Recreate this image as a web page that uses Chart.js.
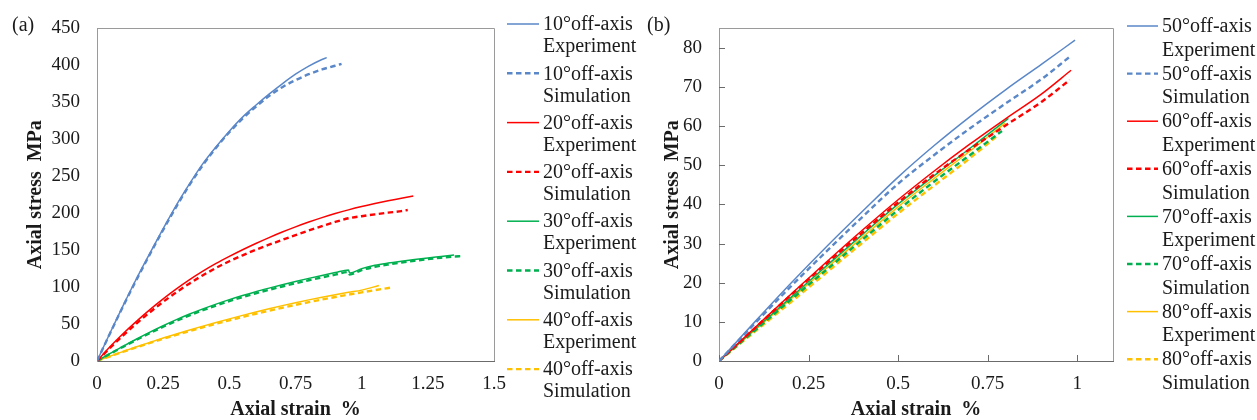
<!DOCTYPE html>
<html>
<head>
<meta charset="utf-8">
<script src="https://cdn.jsdelivr.net/npm/chart.js@4.4.1/dist/chart.umd.min.js"></script>
<style>
  html, body { margin: 0; padding: 0; background: #ffffff; }
  #wrap { position: relative; width: 1257px; height: 420px; overflow: hidden; }
  .panel { position: absolute; top: 0; height: 420px; }
  #pa { left: 0; width: 640px; }
  #pb { left: 640px; width: 617px; }
  canvas { display: block; }
</style>
</head>
<body>
<div id="wrap">
  <div class="panel" id="pa"><canvas id="ca" width="640" height="420"></canvas></div>
  <div class="panel" id="pb"><canvas id="cb" width="617" height="420"></canvas></div>
</div>
<script>
// ---------- Panel (a): 10°–40° off-axis, axial strain (%) vs axial stress (MPa) ----------
const strainA10Exp = [0, 0.05, 0.1, 0.15, 0.2, 0.25, 0.3, 0.35, 0.4, 0.45, 0.5, 0.55, 0.6, 0.65, 0.7, 0.75, 0.8, 0.85, 0.868];
const stressA10Exp = [0, 38.5, 76, 112, 146, 179, 211, 240, 267, 290, 311, 330, 346, 361, 375, 388, 399, 408, 410.5];
const strainA10Sim = [0, 0.05, 0.1, 0.15, 0.2, 0.25, 0.3, 0.35, 0.4, 0.45, 0.5, 0.55, 0.6, 0.65, 0.7, 0.75, 0.8, 0.85, 0.9, 0.924];
const stressA10Sim = [0, 38, 75, 110.5, 144.5, 177.5, 209, 238.5, 265, 288.5, 309.5, 328, 344, 358.5, 370.5, 380, 388, 394.5, 399.5, 402];

const strainA20Exp = [0, 0.05, 0.1, 0.15, 0.2, 0.25, 0.3, 0.35, 0.4, 0.45, 0.5, 0.55, 0.6, 0.65, 0.7, 0.75, 0.8, 0.85, 0.9, 0.95, 1.0, 1.05, 1.1, 1.15, 1.195];
const stressA20Exp = [0, 19.5, 37.5, 54, 69.5, 84, 97.5, 110, 121.5, 132, 141.5, 150.5, 159, 167, 174.5, 181.5, 188, 194, 199.5, 204.5, 209, 213, 216.7, 220.1, 223.2];
const strainA20Sim = [0, 0.05, 0.1, 0.15, 0.2, 0.25, 0.3, 0.35, 0.4, 0.45, 0.5, 0.55, 0.6, 0.65, 0.7, 0.75, 0.8, 0.85, 0.9, 0.95, 1.0, 1.05, 1.1, 1.15, 1.174];
const stressA20Sim = [0, 18, 35, 51, 66, 80, 93, 105, 116, 126, 135, 143, 150.5, 157.3, 163.9, 170.3, 176.5, 182.5, 188.1, 193.1, 195.9, 198.4, 200.7, 202.8, 204.3];

const strainA30Exp = [0, 0.05, 0.1, 0.15, 0.2, 0.25, 0.3, 0.35, 0.4, 0.45, 0.5, 0.55, 0.6, 0.65, 0.7, 0.75, 0.8, 0.85, 0.9, 0.95, 0.955, 1.0, 1.05, 1.1, 1.15, 1.2, 1.25, 1.3, 1.349];
const stressA30Exp = [0, 10.2, 20.2, 29.8, 39, 47.7, 55.9, 63.5, 70.5, 77, 83, 88.6, 93.8, 98.6, 103.2, 107.6, 111.8, 115.8, 119.6, 123.2, 119, 125, 129.5, 132.5, 135, 137.3, 139.5, 141.5, 143.5];
const strainA30Sim = [0, 0.05, 0.1, 0.15, 0.2, 0.25, 0.3, 0.35, 0.4, 0.45, 0.5, 0.55, 0.6, 0.65, 0.7, 0.75, 0.8, 0.85, 0.9, 0.95, 0.955, 1.0, 1.05, 1.1, 1.15, 1.2, 1.25, 1.3, 1.35, 1.378];
const stressA30Sim = [0, 9.8, 19.5, 28.8, 37.8, 46.3, 54.3, 61.8, 68.7, 75.1, 81, 86.5, 91.6, 96.3, 100.8, 105.1, 109.2, 113.1, 116.8, 120.4, 117, 123, 127.3, 130.5, 133.2, 135.6, 137.8, 139.7, 141.3, 142];

const strainA40Exp = [0, 0.05, 0.1, 0.15, 0.2, 0.25, 0.3, 0.35, 0.4, 0.45, 0.5, 0.55, 0.6, 0.65, 0.7, 0.75, 0.8, 0.85, 0.9, 0.95, 1.0, 1.065];
const stressA40Exp = [0, 6.6, 13, 19.2, 25.2, 31, 36.6, 42, 47.2, 52.2, 57, 61.7, 66.3, 70.7, 74.9, 78.9, 82.7, 86.3, 89.7, 92.9, 95.9, 102.1];
const strainA40Sim = [0, 0.05, 0.1, 0.15, 0.2, 0.25, 0.3, 0.35, 0.4, 0.45, 0.5, 0.55, 0.6, 0.65, 0.7, 0.75, 0.8, 0.85, 0.9, 0.95, 1.0, 1.05, 1.11];
const stressA40Sim = [0, 6.4, 12.6, 18.6, 24.4, 30, 35.4, 40.6, 45.6, 50.4, 55.05, 59.55, 63.95, 68.05, 72.05, 75.9, 79.6, 83.15, 86.55, 89.8, 92.9, 95.85, 99.3];

// ---------- Panel (b): 50°–80° off-axis ----------
const strainB50Exp = [0, 0.1, 0.2, 0.3, 0.4, 0.5, 0.6, 0.7, 0.8, 0.9, 0.994];
const stressB50Exp = [0, 10, 19.8, 29.2, 38.2, 47, 55, 62.4, 69.3, 75.8, 82];
const strainB50Sim = [0, 0.1, 0.2, 0.3, 0.4, 0.5, 0.6, 0.7, 0.8, 0.9, 0.98];
const stressB50Sim = [0, 9.6, 19, 28, 36.8, 45.3, 52.6, 59.4, 65.8, 72, 77.8];

const strainB60Exp = [0, 0.1, 0.2, 0.3, 0.4, 0.5, 0.6, 0.7, 0.8, 0.9, 0.983];
const stressB60Exp = [0, 8.5, 17, 25.3, 33.4, 41.2, 48.5, 55.4, 61.9, 68.2, 74.3];
const strainB60Sim = [0, 0.1, 0.2, 0.3, 0.4, 0.5, 0.6, 0.7, 0.8, 0.9, 0.979];
const stressB60Sim = [0, 8.4, 16.8, 24.9, 32.8, 40.5, 47.6, 54.1, 60.2, 66.2, 71.8];

const strainB70Exp = [0, 0.1, 0.2, 0.3, 0.4, 0.5, 0.6, 0.7, 0.808];
const stressB70Exp = [0, 8.1, 16.2, 24.3, 32.3, 40.1, 47.3, 54.3, 62];
const strainB70Sim = [0, 0.1, 0.2, 0.3, 0.4, 0.5, 0.6, 0.7, 0.79];
const stressB70Sim = [0, 7.8, 15.6, 23.3, 31, 38.6, 45.8, 52.6, 58.8];

const strainB80Exp = [0, 0.1, 0.2, 0.3, 0.4, 0.5, 0.6, 0.7, 0.799];
const stressB80Exp = [0, 7.9, 15.8, 23.7, 31.6, 39.4, 46.6, 53.6, 60.8];
const strainB80Sim = [0, 0.1, 0.2, 0.3, 0.4, 0.5, 0.6, 0.7, 0.78];
const stressB80Sim = [0, 7.5, 15, 22.6, 30.2, 37.7, 44.8, 51.8, 57.8];

// Tick positions
const ticksA_x = [0, 0.25, 0.5, 0.75, 1, 1.25, 1.5];
const ticksA_y = [0, 50, 100, 150, 200, 250, 300, 350, 400, 450];
const ticksB_x = [0, 0.25, 0.5, 0.75, 1];
const ticksB_y = [0, 10, 20, 30, 40, 50, 60, 70, 80];

const anglesA = ['10', '20', '30', '40'];
const anglesB = ['50', '60', '70', '80'];
const seriesColors = ['#5A87C8', '#FF0000', '#00B050', '#FFC000'];

const SERIF = "'Liberation Serif', 'Times New Roman', serif";

function pairs(xs, ys) { return xs.map((x, i) => ({ x: x, y: ys[i] })); }

function makeSet(angle, kind, color, xs, ys) {
  const dashed = kind === 'Simulation';
  return {
    label: angle + '°off-axis\n' + kind,
    data: pairs(xs, ys),
    showLine: true,
    borderColor: color,
    backgroundColor: color,
    borderWidth: dashed ? 2.4 : 1.5,
    borderDash: dashed ? [5.5, 3.5] : [],
    pointRadius: 0,
    pointHoverRadius: 0,
    fill: false,
    cubicInterpolationMode: 'monotone'
  };
}

// Frame, inward tick marks, side legend and panel letter
const panelDecor = {
  id: 'panelDecor',
  beforeDatasetsDraw(chart, args, o) {
    const { ctx, chartArea: a } = chart;
    ctx.save();
    ctx.strokeStyle = o.frameColor;
    ctx.lineWidth = 1;
    const top = Math.round(a.top) + 0.5;
    const right = Math.round(a.right) + 0.5;
    ctx.beginPath();
    ctx.moveTo(Math.round(a.left), top);
    ctx.lineTo(right, top);
    ctx.lineTo(right, Math.round(a.bottom));
    ctx.stroke();
    if (o.inwardTicks) {
      const xs = chart.scales.x, ys = chart.scales.y;
      ctx.strokeStyle = o.tickColor;
      ctx.beginPath();
      xs.ticks.forEach(t => {
        const px = Math.round(xs.getPixelForValue(t.value)) + 0.5;
        ctx.moveTo(px, a.bottom);
        ctx.lineTo(px, a.bottom - 6);
      });
      ys.ticks.forEach(t => {
        const py = Math.round(ys.getPixelForValue(t.value)) + 0.5;
        ctx.moveTo(a.left, py);
        ctx.lineTo(a.left + 6, py);
      });
      ctx.stroke();
    }
    ctx.restore();
  },
  afterDraw(chart, args, o) {
    const { ctx } = chart;
    ctx.save();
    ctx.font = '20px ' + SERIF;
    ctx.fillStyle = '#1a1a1a';
    ctx.textBaseline = 'middle';
    ctx.textAlign = 'left';
    ctx.fillText(o.letter, o.letterX, o.letterY);
    chart.data.datasets.forEach((ds, i) => {
      const y = o.legendY0 + i * o.legendStep;
      ctx.strokeStyle = ds.borderColor;
      ctx.lineWidth = ds.borderWidth;
      ctx.setLineDash(ds.borderDash || []);
      ctx.beginPath();
      ctx.moveTo(o.legendX0, y);
      ctx.lineTo(o.legendX1, y);
      ctx.stroke();
      ctx.setLineDash([]);
      ds.label.split('\n').forEach((line, k) => {
        ctx.fillText(line, o.legendTextX, y + 1 + k * o.legendLineGap);
      });
    });
    ctx.restore();
  }
};

function fmt(v) { return String(Math.round(v * 100) / 100); }

function buildChart(canvasId, datasets, cfg) {
  return new Chart(document.getElementById(canvasId), {
    type: 'scatter',
    data: { datasets: datasets },
    plugins: [panelDecor],
    options: {
      responsive: false,
      animation: false,
      devicePixelRatio: 1,
      events: [],
      layout: { padding: { left: 0, top: 23, right: cfg.rightPad, bottom: 0 } },
      plugins: {
        legend: { display: false },
        tooltip: { enabled: false },
        panelDecor: cfg.decor
      },
      scales: {
        x: {
          type: 'linear',
          min: 0,
          max: cfg.xMax,
          afterBuildTicks: s => { s.ticks = cfg.xTicks.map(v => ({ value: v })); },
          afterFit: s => { s.height = 59; },
          ticks: {
            padding: 12,
            maxRotation: 0,
            autoSkip: false,
            color: '#1a1a1a',
            font: { family: SERIF, size: 19, lineHeight: 1.2 },
            callback: v => fmt(v)
          },
          grid: { display: false, drawTicks: false },
          border: { display: true, color: '#6b6b6b', width: 1 },
          title: {
            display: true,
            text: 'Axial strain  %',
            color: '#1a1a1a',
            padding: { top: 0, bottom: 0 },
            font: { family: SERIF, size: 20, weight: 'bold', lineHeight: 1 }
          }
        },
        y: {
          type: 'linear',
          min: 0,
          max: cfg.yMax,
          afterBuildTicks: s => { s.ticks = cfg.yTicks.map(v => ({ value: v })); },
          afterFit: s => { s.width = cfg.yWidth; },
          ticks: {
            padding: 17,
            autoSkip: false,
            color: '#1a1a1a',
            font: { family: SERIF, size: 19, lineHeight: 1.2 },
            callback: v => fmt(v)
          },
          grid: { display: false, drawTicks: false },
          border: { display: true, color: '#9a9a9a', width: 1 },
          title: {
            display: true,
            text: 'Axial stress  MPa',
            color: '#1a1a1a',
            padding: { top: cfg.yTitlePad, bottom: 0 },
            font: { family: SERIF, size: 20, weight: 'bold', lineHeight: 1 }
          }
        }
      }
    }
  });
}

const setsA = [
  makeSet(anglesA[0], 'Experiment', seriesColors[0], strainA10Exp, stressA10Exp),
  makeSet(anglesA[0], 'Simulation', seriesColors[0], strainA10Sim, stressA10Sim),
  makeSet(anglesA[1], 'Experiment', seriesColors[1], strainA20Exp, stressA20Exp),
  makeSet(anglesA[1], 'Simulation', seriesColors[1], strainA20Sim, stressA20Sim),
  makeSet(anglesA[2], 'Experiment', seriesColors[2], strainA30Exp, stressA30Exp),
  makeSet(anglesA[2], 'Simulation', seriesColors[2], strainA30Sim, stressA30Sim),
  makeSet(anglesA[3], 'Experiment', seriesColors[3], strainA40Exp, stressA40Exp),
  makeSet(anglesA[3], 'Simulation', seriesColors[3], strainA40Sim, stressA40Sim)
];

const setsB = [
  makeSet(anglesB[0], 'Experiment', seriesColors[0], strainB50Exp, stressB50Exp),
  makeSet(anglesB[0], 'Simulation', seriesColors[0], strainB50Sim, stressB50Sim),
  makeSet(anglesB[1], 'Experiment', seriesColors[1], strainB60Exp, stressB60Exp),
  makeSet(anglesB[1], 'Simulation', seriesColors[1], strainB60Sim, stressB60Sim),
  makeSet(anglesB[2], 'Experiment', seriesColors[2], strainB70Exp, stressB70Exp),
  makeSet(anglesB[2], 'Simulation', seriesColors[2], strainB70Sim, stressB70Sim),
  makeSet(anglesB[3], 'Experiment', seriesColors[3], strainB80Exp, stressB80Exp),
  makeSet(anglesB[3], 'Simulation', seriesColors[3], strainB80Sim, stressB80Sim)
];

buildChart('ca', setsA, {
  rightPad: 146, yWidth: 97, yTitlePad: 26,
  xMax: 1.5, yMax: 450, xTicks: ticksA_x, yTicks: ticksA_y,
  decor: {
    frameColor: '#9a9a9a', inwardTicks: false, tickColor: '#6b6b6b',
    letter: '(a)', letterX: 12, letterY: 26,
    legendX0: 507, legendX1: 539, legendTextX: 543,
    legendY0: 24, legendStep: 49.3, legendLineGap: 22
  }
});

buildChart('cb', setsB, {
  rightPad: 144, yWidth: 79, yTitlePad: 23,
  xMax: 1.1, yMax: 85, xTicks: ticksB_x, yTicks: ticksB_y,
  decor: {
    frameColor: '#9a9a9a', inwardTicks: true, tickColor: '#6b6b6b',
    letter: '(b)', letterX: 7, letterY: 26,
    legendX0: 487, legendX1: 518, legendTextX: 522,
    legendY0: 26, legendStep: 47.6, legendLineGap: 23.5
  }
});
</script>
</body>
</html>
